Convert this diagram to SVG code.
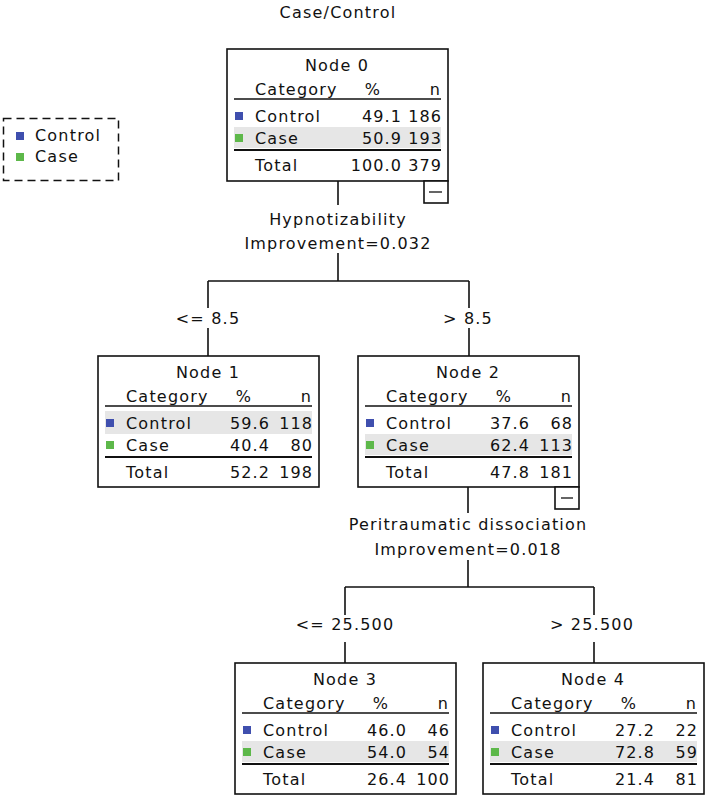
<svg xmlns="http://www.w3.org/2000/svg" width="708" height="798" viewBox="0 0 708 798">
<defs>
<style>
text{font-family:"DejaVu Sans","Liberation Sans",sans-serif;font-size:16px;letter-spacing:1.2px;fill:#111}
.num{letter-spacing:1.1px;text-anchor:end}
.mid{text-anchor:middle}
.end{text-anchor:end}
.box{fill:#fff;stroke:#111;stroke-width:1.6}
.hl{fill:#e6e6e6}
.rule{stroke:#111;stroke-width:1.3}
.thick{stroke:#111;stroke-width:2.2}
.ctl{fill:#3f4fae}
.cas{fill:#5db84a}
.conn{stroke:#111;stroke-width:1.6;fill:none}
.mb{fill:#fff;stroke:#111;stroke-width:1.6}
</style>
</defs>
<rect width="708" height="798" fill="#fff"/>
<text x="338" y="18" class="mid">Case/Control</text>

<g id="legend">
<rect x="3.5" y="118.5" width="115" height="62" fill="none" stroke="#111" stroke-width="1.5" stroke-dasharray="8,5"/>
<rect x="16" y="132" width="8" height="8" class="ctl"/>
<text x="35" y="141">Control</text>
<rect x="16" y="153" width="8" height="8" class="cas"/>
<text x="35" y="162">Case</text>
</g>

<g id="connectors">
<path class="conn" d="M338 181V205M338 253V281M208 281H469M208 281V308M469 281V308M208 328V356M469 328V356"/>
<path class="conn" d="M468 487V513M468 560V587M345 587H594M345 587V615M594 587V615M345 642V663M594 642V663"/>
<text x="338" y="225" class="mid">Hypnotizability</text>
<text x="338" y="249" class="mid">Improvement=0.032</text>
<text x="208" y="324" class="mid">&lt;= 8.5</text>
<text x="468" y="324" class="mid">&gt; 8.5</text>
<text x="468" y="530" class="mid">Peritraumatic dissociation</text>
<text x="468" y="555" class="mid">Improvement=0.018</text>
<text x="345" y="630" class="mid">&lt;= 25.500</text>
<text x="592" y="630" class="mid">&gt; 25.500</text>
</g>

<g id="node0" transform="translate(227,49)">
<rect class="box" x="0" y="0" width="221" height="132"/>
<rect class="hl" x="7" y="78" width="207" height="21"/>
<text x="110" y="22" class="mid">Node 0</text>
<text x="28" y="46">Category</text>
<text x="146" y="46" class="mid">%</text>
<text x="214" y="46" class="end">n</text>
<line class="rule" x1="7" y1="50" x2="214" y2="50"/>
<rect x="8" y="63" width="8" height="8" class="ctl"/>
<text x="28" y="73">Control</text>
<text x="175" y="73" class="num">49.1</text>
<text x="215" y="73" class="num">186</text>
<rect x="8" y="85" width="8" height="8" class="cas"/>
<text x="28" y="95">Case</text>
<text x="175" y="95" class="num">50.9</text>
<text x="215" y="95" class="num">193</text>
<line class="thick" x1="7" y1="101" x2="214" y2="101"/>
<text x="28" y="122">Total</text>
<text x="175" y="122" class="num">100.0</text>
<text x="215" y="122" class="num">379</text>
<rect class="mb" x="197" y="132" width="24" height="22"/>
<line class="rule" x1="202" y1="143" x2="215" y2="143"/>
</g>

<g id="node1" transform="translate(98,356)">
<rect class="box" x="0" y="0" width="221" height="131"/>
<rect class="hl" x="7" y="55" width="207" height="23"/>
<text x="110" y="22" class="mid">Node 1</text>
<text x="28" y="46">Category</text>
<text x="146" y="46" class="mid">%</text>
<text x="214" y="46" class="end">n</text>
<line class="rule" x1="7" y1="50" x2="214" y2="50"/>
<rect x="8" y="63" width="8" height="8" class="ctl"/>
<text x="28" y="73">Control</text>
<text x="172" y="73" class="num">59.6</text>
<text x="215" y="73" class="num">118</text>
<rect x="8" y="85" width="8" height="8" class="cas"/>
<text x="28" y="95">Case</text>
<text x="172" y="95" class="num">40.4</text>
<text x="215" y="95" class="num">80</text>
<line class="thick" x1="7" y1="101" x2="214" y2="101"/>
<text x="28" y="122">Total</text>
<text x="172" y="122" class="num">52.2</text>
<text x="215" y="122" class="num">198</text>
</g>

<g id="node2" transform="translate(358,356)">
<rect class="box" x="0" y="0" width="221" height="131"/>
<rect class="hl" x="7" y="78" width="207" height="21"/>
<text x="110" y="22" class="mid">Node 2</text>
<text x="28" y="46">Category</text>
<text x="146" y="46" class="mid">%</text>
<text x="214" y="46" class="end">n</text>
<line class="rule" x1="7" y1="50" x2="214" y2="50"/>
<rect x="8" y="63" width="8" height="8" class="ctl"/>
<text x="28" y="73">Control</text>
<text x="172" y="73" class="num">37.6</text>
<text x="215" y="73" class="num">68</text>
<rect x="8" y="85" width="8" height="8" class="cas"/>
<text x="28" y="95">Case</text>
<text x="172" y="95" class="num">62.4</text>
<text x="215" y="95" class="num">113</text>
<line class="thick" x1="7" y1="101" x2="214" y2="101"/>
<text x="28" y="122">Total</text>
<text x="172" y="122" class="num">47.8</text>
<text x="215" y="122" class="num">181</text>
<rect class="mb" x="197" y="131" width="24" height="22"/>
<line class="rule" x1="203" y1="142" x2="215" y2="142"/>
</g>

<g id="node3" transform="translate(235,663)">
<rect class="box" x="0" y="0" width="221" height="131"/>
<rect class="hl" x="7" y="78" width="207" height="21"/>
<text x="110" y="22" class="mid">Node 3</text>
<text x="28" y="46">Category</text>
<text x="146" y="46" class="mid">%</text>
<text x="214" y="46" class="end">n</text>
<line class="rule" x1="7" y1="50" x2="214" y2="50"/>
<rect x="8" y="63" width="8" height="8" class="ctl"/>
<text x="28" y="73">Control</text>
<text x="172" y="73" class="num">46.0</text>
<text x="215" y="73" class="num">46</text>
<rect x="8" y="85" width="8" height="8" class="cas"/>
<text x="28" y="95">Case</text>
<text x="172" y="95" class="num">54.0</text>
<text x="215" y="95" class="num">54</text>
<line class="thick" x1="7" y1="101" x2="214" y2="101"/>
<text x="28" y="122">Total</text>
<text x="172" y="122" class="num">26.4</text>
<text x="215" y="122" class="num">100</text>
</g>

<g id="node4" transform="translate(483,663)">
<rect class="box" x="0" y="0" width="221" height="131"/>
<rect class="hl" x="7" y="78" width="207" height="21"/>
<text x="110" y="22" class="mid">Node 4</text>
<text x="28" y="46">Category</text>
<text x="146" y="46" class="mid">%</text>
<text x="214" y="46" class="end">n</text>
<line class="rule" x1="7" y1="50" x2="214" y2="50"/>
<rect x="8" y="63" width="8" height="8" class="ctl"/>
<text x="28" y="73">Control</text>
<text x="172" y="73" class="num">27.2</text>
<text x="215" y="73" class="num">22</text>
<rect x="8" y="85" width="8" height="8" class="cas"/>
<text x="28" y="95">Case</text>
<text x="172" y="95" class="num">72.8</text>
<text x="215" y="95" class="num">59</text>
<line class="thick" x1="7" y1="101" x2="214" y2="101"/>
<text x="28" y="122">Total</text>
<text x="172" y="122" class="num">21.4</text>
<text x="215" y="122" class="num">81</text>
</g>
</svg>
